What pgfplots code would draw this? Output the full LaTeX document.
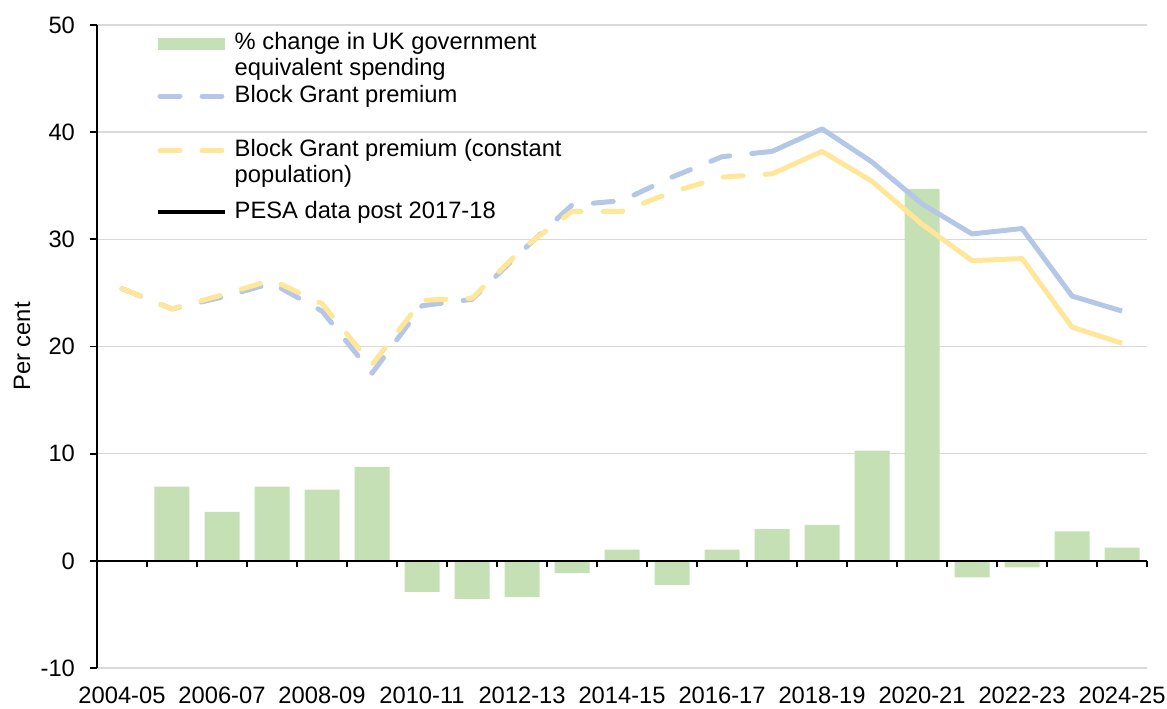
\documentclass[border=0pt]{standalone}
\usepackage{fontspec}
\setmainfont{Liberation Sans}
\usepackage{pgfplots}
\usepackage{pgfplotstable}
\pgfplotsset{compat=1.18}

\definecolor{barg}{HTML}{C5E0B4}
\definecolor{bgblue}{HTML}{B4C7E7}
\definecolor{bgyel}{HTML}{FFE699}
\definecolor{gridc}{HTML}{D9D9D9}

% % change in UK government equivalent spending (2005-06 .. 2024-25)
\pgfplotstableread{
x y
1 6.93
2 4.57
3 6.93
4 6.65
5 8.76
6 -2.90
7 -3.54
8 -3.35
9 -1.15
10 1.05
11 -2.24
12 1.05
13 2.95
14 3.35
15 10.28
16 34.7
17 -1.55
18 -0.60
19 2.75
20 1.24
}\spend

% Block Grant premium
\pgfplotstableread{
x y
0 25.4
1 23.5
2 24.6
3 25.9
4 23.3
5 17.5
6 23.8
7 24.4
8 28.9
9 33.2
10 33.6
11 35.8
12 37.7
13 38.2
}\bgpold
\pgfplotstableread{
x y
13 38.2
14 40.3
15 37.2
16 33.3
17 30.5
18 31.0
19 24.7
20 23.3
}\bgpnew

% Block Grant premium (constant population)
\pgfplotstableread{
x y
0 25.4
1 23.5
2 24.8
3 26.2
4 24.0
5 18.3
6 24.3
7 24.5
8 29.1
9 32.6
10 32.6
11 34.4
12 35.8
13 36.1
}\cpold
\pgfplotstableread{
x y
13 36.1
14 38.2
15 35.4
16 31.4
17 28.0
18 28.2
19 21.8
20 20.3
}\cpnew

\tikzset{
  dashln/.style={line width=2.1pt, line cap=round, line join=round, dash pattern=on 8.4pt off 9.3pt},
  solidln/.style={line width=2.1pt, line join=round},
}
\pgfplotsset{
  legbar/.style={legend image code/.code={\fill[barg] (0pt,-2.5pt) rectangle (28.3pt,2.5pt);}},
  legblue/.style={legend image code/.code={\draw[bgblue, dashln] (1.05pt,0pt) -- (27.25pt,0pt);}},
  legyel/.style={legend image code/.code={\draw[bgyel, dashln] (1.05pt,0pt) -- (27.25pt,0pt);}},
  legblack/.style={legend image code/.code={\draw[black, line width=1.7pt] (0pt,0pt) -- (28.3pt,0pt);}},
}

\begin{document}
\begin{tikzpicture}
\begin{axis}[
  scale only axis, width=442.8pt, height=271.2pt,
  xmin=-0.5, xmax=20.5, ymin=-10, ymax=50,
  axis x line*=bottom, axis y line*=left,
  x axis line style={draw=none},
  xtick={0,2,...,20},
  xticklabels={2004-05,2006-07,2008-09,2010-11,2012-13,2014-15,2016-17,2018-19,2020-21,2022-23,2024-25},
  major x tick style={draw=none},
  xticklabel style={anchor=north, inner sep=0pt, yshift=-5.1pt},
  ytick={-10,0,...,50},
  yticklabel style={anchor=east, inner sep=0pt, xshift=-6.3pt},
  ymajorgrids, grid style={gridc, line width=0.6pt},
  y axis line style={black, line width=0.8pt},
  major y tick style={black, line width=0.8pt},
  tick align=outside, major tick length=2.8pt,
  tick label style={font=\fontsize{10}{12}\selectfont},
  /pgf/number format/assume math mode=true,
  ylabel={Per cent},
  ylabel style={at={(axis description cs:0,0.5)}, anchor=center, yshift=31.6pt, font=\fontsize{10}{12}\selectfont},
  legend cell align=left,
  legend style={at={(rel axis cs:0.0553,0.992)}, anchor=north west, draw=none, fill=none,
    inner xsep=0pt, inner ysep=0pt, row sep=0pt, column sep=0pt,
    font=\fontsize{10}{12}\selectfont,
    nodes={inner xsep=3.4pt, inner ysep=0pt, text height=8.1pt, text depth=2.97pt}},
]
\addplot[ybar, bar width=0.7, bar shift=0pt, fill=barg, draw=none, legbar]
  table[x=x, y=y] {\spend};
\addlegendentry{\% change in UK government}
\addlegendimage{empty legend}
\addlegendentry{equivalent spending}

\addplot[bgblue, dashln, legblue] table[x=x, y=y] {\bgpold};
\addlegendentry{Block Grant premium}
\addplot[bgblue, solidln, forget plot] table[x=x, y=y] {\bgpnew};

\addlegendimage{empty legend}
\addlegendentry[text height=8.9pt]{}

\addplot[bgyel, dashln, legyel] table[x=x, y=y] {\cpold};
\addlegendentry{Block Grant premium (constant}
\addplot[bgyel, solidln, forget plot] table[x=x, y=y] {\cpnew};

\addlegendimage{empty legend}
\addlegendentry{population)}
\addlegendimage{empty legend}
\addlegendentry[text height=3.9pt, text depth=0pt]{}
\addlegendimage{legblack}
\addlegendentry{PESA data post 2017-18}
\end{axis}

% zero line with category ticks
\begin{axis}[
  scale only axis, width=442.8pt, height=271.2pt,
  xmin=-0.5, xmax=20.5, ymin=-10, ymax=50,
  axis x line=middle, axis y line=none,
  x axis line style={-, black, line width=0.85pt},
  xtick={-0.5,0.5,...,20.5}, xticklabels={}, ytick=\empty,
  tick align=outside, major tick length=2.8pt,
  major x tick style={black, line width=0.8pt},
]
\end{axis}

\pgfresetboundingbox
\useasboundingbox (-40.9pt,-16.9pt) rectangle (451.2pt,281.7pt);
\end{tikzpicture}
\end{document}
